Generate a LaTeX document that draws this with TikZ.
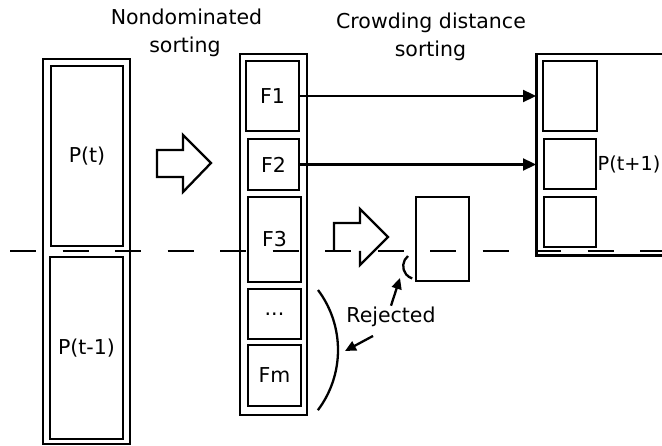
\documentclass[tikz,border=0pt]{standalone}
\usepackage{fontspec}
\setmainfont{DejaVu Sans}
\usetikzlibrary{arrows.meta,calc}
\begin{document}
\begin{tikzpicture}[x=1pt,y=-1pt,
  font=\fontsize{20.5pt}{24pt}\selectfont,
  boxstyle/.style={draw, line width=2.7pt, fill=white, inner sep=0pt, outer sep=0pt},
  titletext/.style={inner sep=0pt, anchor=base},
  fwdarrow/.style={line width=2.3pt, -{Triangle[length=13pt,width=12pt]}},
  rejarrow/.style={line width=2.3pt, -{Triangle[length=11pt,width=10pt]}},
  blockarrow/.style={line width=2.3pt, fill=white, line join=miter},
  cutline/.style={line width=2.6pt, dash pattern=on 26pt off 26.5pt},
  bracketarc/.style={line width=2.3pt}]

% page frame
\useasboundingbox (0,0) rectangle (662,446);
\clip (0,0) rectangle (662,446);
\fill[white] (0,0) rectangle (662,446);

% headings
\node[titletext] (nd1) at (186.5,25) {Nondominated};
\node[titletext] (nd2) at (185,53) {sorting};
\node[titletext] (cd1) at (431,29) {Crowding distance};
\node[titletext] (cd2) at (430.5,57) {sorting};

% combined population P(t) + P(t-1)
\node[boxstyle, minimum width=87, minimum height=385] (pall) at (86.5,251.5) {};
\node[boxstyle, minimum width=72, minimum height=180] (pt) at (87,156) {P(t)};
\node[boxstyle, minimum width=73, minimum height=182] (ptm) at (86.5,348) {P(t-1)};

% fronts after nondominated sorting
\node[boxstyle, minimum width=67, minimum height=361] (fronts) at (273.5,234.5) {};
\node[boxstyle, minimum width=53, minimum height=70] (f1) at (272.5,96) {F1};
\node[boxstyle, minimum width=51, minimum height=51] (f2) at (273.5,164.5) {F2};
\node[boxstyle, minimum width=53, minimum height=85] (f3) at (274.5,239.5) {F3};
\node[boxstyle, minimum width=53, minimum height=50] (fdots) at (274.5,314) {...};
\node[boxstyle, minimum width=53, minimum height=61] (fm) at (274.5,375.5) {Fm};

% part of F3 after crowding distance sorting
\node[boxstyle, minimum width=53, minimum height=84] (crowd) at (442.5,239) {};

% next population P(t+1)
\node[boxstyle, minimum width=164, minimum height=202] (pnext) at (618,155) {};
\draw[line width=3.6pt] ([xshift=0.5pt,yshift=-1.4pt]pnext.north west)
  -- ([xshift=0.5pt,yshift=0.5pt]pnext.south west) -- ([yshift=0.5pt]pnext.south east);
\node[boxstyle, minimum width=54, minimum height=70] (q1) at (570,96) {};
\node[boxstyle, minimum width=52, minimum height=50] (q2) at (570,164) {};
\node[boxstyle, minimum width=52, minimum height=50] (q3) at (570,222) {};
\node[inner sep=0pt, anchor=west, font=\fontsize{19.3pt}{22pt}\selectfont]
  (pnexttext) at (597.5,164) {P(t+1)};

% fronts copied into P(t+1)
\draw[fwdarrow] (f1.east) -- (f1.east -| pnext.west);
\draw[fwdarrow] (f2.east) -- (f2.east -| pnext.west);

% hollow block arrows
\draw[blockarrow] (157,150) -- (183,150) -- (183,135) -- (211,163) -- (183,192)
  -- (183,177) -- (157,177) -- cycle;
\draw[blockarrow] (360,251) -- (360,265) -- (388,237) -- (360,209) -- (360,223)
  -- (334,223) -- (334,251);

% rejected parts
\draw[bracketarc] (408,256) arc[start angle=231, end angle=108, radius=13];
\draw[bracketarc] (318,290) arc[start angle=-36.87, end angle=37, radius=100];
\node[titletext, inner sep=1.5pt] (rej) at (391,323) {Rejected};
\coordinate (rejtop) at (400,278);
\coordinate (rejleft) at (345,351);
\draw[rejarrow] (rej.north) -- (rejtop);
\draw[rejarrow] ($(rej.south)+(-18,7)$) -- (rejleft);

% population size cut
\coordinate (cutL) at (10,251);
\coordinate (cutR) at (700,251);
\draw[cutline] (cutL) -- (cutR);
\end{tikzpicture}
\end{document}
